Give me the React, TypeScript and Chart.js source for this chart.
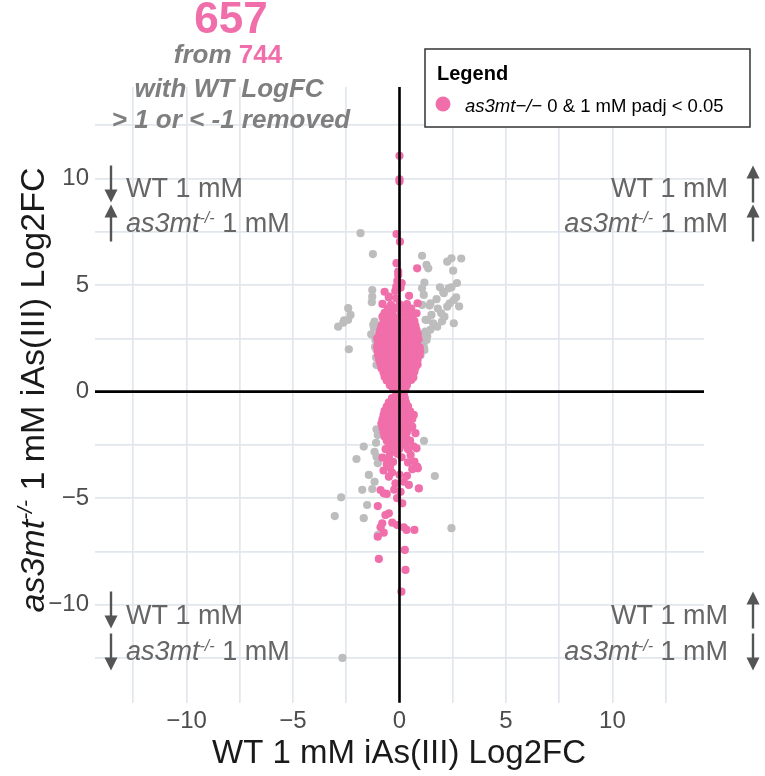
import React, { useEffect, useRef } from 'react';
import { Chart, registerables } from 'chart.js';

Chart.register(...registerables);

const FONT = "'Liberation Sans', Arial, Helvetica, sans-serif";
const PINK = '#F06EAA';
const GRAY = '#BDBDBD';

const xTickValues = [-12.5, -10, -7.5, -5, -2.5, 0, 2.5, 5, 7.5, 10, 12.5];
const yTickValues = [-12.5, -10, -7.5, -5, -2.5, 0, 2.5, 5, 7.5, 10, 12.5];
const xLimits = [-14.3, 14.3];
const yLimits = [-14.6, 14.3];

const titleCount = '657';
const titleTotal = '744';
const legendTitle = 'Legend';
const legendGene = 'as3mt\u2212/\u2212';
const legendRest = ' 0 & 1 mM padj < 0.05';

const grayPoints: [number, number][] = [
  [-1.83, 7.44], [-1.25, 6.46], [1.06, 6.38], [1.27, 5.95], [1.35, 5.79], [2.24, 6.1], [2.44, 6.26],
  [2.52, 5.68], [2.9, 6.25], [1.17, 5.12], [1.06, 4.85], [2.44, 4.9], [2.05, 4.69], [-1.28, 4.77],
  [-1.28, 4.46], [1.14, 4.54], [1.74, 4.34], [2.66, 4.43], [2.36, 4.15], [2.24, 3.99], [1.41, 4.04],
  [1.06, 4.07], [-2.41, 3.92], [-2.3, 3.6], [-2.64, 3.24], [-2.88, 3.05], [-2.41, 3.37], [-2.38, 1.99],
  [-1.17, 3.29], [-1.23, 3.13], [-1.33, 2.69], [-1.08, 1.96], [-1.08, 1.25], [1.22, 3.37], [1.58, 3.21],
  [1.96, 3.68], [2.11, 3.52], [2.55, 3.21], [1.77, 3.05], [1.14, 2.74], [1.27, 2.43], [1.02, 2.24],
  [1.17, 1.96], [0.99, 1.72], [-1.13, 2.43], [1.46, 4.15], [2.08, 4.62], [2.31, 4.85], [2.55, 4.3],
  [1.61, 3.13], [1.3, 3.37], [1.22, 2.82], [1.45, 2.9], [1.14, 2.11], [-2.6, 3.35], [-1.2, 3.0],
  [-1.15, 2.1], [-1.1, 1.6], [2.8, 4.0], [1.9, 4.9], [1.5, 3.6], [1.8, 3.9], [2.7, 5.1], [-1.3, 4.2],
  [1.3, 2.6], [2.0, 3.3],
  [-1.08, -1.77], [-1.02, -2.03], [-1.68, -2.58], [-1.17, -2.82], [-1.08, -3.05], [-2.02, -3.16],
  [-1.02, -3.36], [1.15, -2.31], [-1.44, -3.91], [-1.17, -4.23], [-1.28, -4.57], [-1.75, -4.61],
  [1.66, -3.96], [-2.74, -4.96], [-1.52, -5.32], [-3.04, -5.84], [-1.68, -5.94], [-1.02, -6.73],
  [2.44, -6.41], [-2.68, -12.5], [-1.1, -2.4],
];

const pinkPoints: [number, number][] = [
  [-0.3, 0.12], [-0.1, 0.08], [0.1, 0.1], [0.28, 0.14],
  [-0.45, 0.3], [-0.25, 0.27], [-0.05, 0.33], [0.15, 0.29], [0.35, 0.31],
  [-0.6, 0.52], [-0.4, 0.48], [-0.2, 0.5], [0.0, 0.53], [0.2, 0.47], [0.4, 0.5], [0.55, 0.55],
  [-0.7, 0.7], [-0.5, 0.73], [-0.3, 0.68], [-0.1, 0.71], [0.1, 0.69], [0.3, 0.72], [0.5, 0.7], [0.65, 0.67],
  [-0.75, 0.9], [-0.55, 0.88], [-0.35, 0.93], [-0.15, 0.9], [0.05, 0.87], [0.25, 0.91], [0.45, 0.89], [0.7, 0.93],
  [-0.85, 1.1], [-0.65, 1.13], [-0.45, 1.08], [-0.25, 1.1], [-0.05, 1.12], [0.15, 1.09], [0.35, 1.11], [0.55, 1.08], [0.75, 1.12],
  [-0.9, 1.32], [-0.7, 1.28], [-0.5, 1.3], [-0.3, 1.33], [-0.1, 1.29], [0.1, 1.31], [0.3, 1.28], [0.5, 1.32], [0.7, 1.3], [0.85, 1.27],
  [-0.95, 1.5], [-0.75, 1.53], [-0.55, 1.48], [-0.35, 1.5], [-0.15, 1.52], [0.05, 1.49], [0.25, 1.51], [0.45, 1.47], [0.65, 1.52], [0.85, 1.5],
  [-1.0, 1.7], [-0.8, 1.68], [-0.6, 1.72], [-0.4, 1.7], [-0.2, 1.67], [0.0, 1.71], [0.2, 1.69], [0.4, 1.73], [0.6, 1.7], [0.8, 1.68], [0.95, 1.72],
  [-1.02, 1.9], [-0.82, 1.93], [-0.62, 1.88], [-0.42, 1.91], [-0.22, 1.9], [-0.02, 1.87], [0.18, 1.92], [0.38, 1.89], [0.58, 1.91], [0.78, 1.88], [0.96, 1.9],
  [-1.05, 2.1], [-0.85, 2.08], [-0.65, 2.12], [-0.45, 2.1], [-0.25, 2.13], [-0.05, 2.09], [0.15, 2.11], [0.35, 2.08], [0.55, 2.12], [0.75, 2.1], [0.95, 2.07],
  [-1.0, 2.3], [-0.8, 2.33], [-0.6, 2.28], [-0.4, 2.31], [-0.2, 2.29], [0.0, 2.32], [0.2, 2.3], [0.4, 2.27], [0.6, 2.31], [0.8, 2.3],
  [-1.05, 2.5], [-0.85, 2.52], [-0.6, 2.48], [-0.4, 2.51], [-0.2, 2.5], [0.05, 2.53], [0.3, 2.49], [0.5, 2.5], [0.7, 2.52], [0.9, 2.47],
  [-0.95, 2.72], [-0.7, 2.68], [-0.45, 2.7], [-0.25, 2.73], [0.0, 2.69], [0.2, 2.71], [0.45, 2.68], [0.65, 2.72], [0.85, 2.7],
  [-0.9, 2.9], [-0.65, 2.93], [-0.4, 2.88], [-0.15, 2.91], [0.1, 2.9], [0.3, 2.87], [0.55, 2.92], [0.8, 2.9],
  [-0.85, 3.1], [-0.6, 3.12], [-0.3, 3.08], [-0.05, 3.11], [0.25, 3.1], [0.5, 3.13], [0.75, 3.09],
  [-0.75, 3.3], [-0.5, 3.28], [-0.2, 3.32], [0.1, 3.3], [0.35, 3.27], [0.7, 3.31],
  [-0.8, 3.52], [-0.45, 3.5], [-0.1, 3.48], [0.3, 3.51], [0.6, 3.5],
  [-0.7, 3.7], [-0.35, 3.72], [0.05, 3.69], [0.45, 3.7], [0.8, 3.68],
  [-0.55, 3.9], [-0.2, 3.92], [0.2, 3.88], [0.55, 3.9],
  [-0.8, 4.12], [-0.4, 4.08], [0.0, 4.1], [0.35, 4.11], [0.85, 4.15],
  [-0.5, 4.42], [-0.15, 4.38], [0.45, 4.5], [-0.7, 4.69], [-0.2, 4.72], [-0.5, 4.46],
  [-0.15, 4.93], [0.05, 4.88], [-0.1, 5.2], [0.1, 5.1],
  [-0.06, 5.63], [-0.06, 5.48], [0.83, 5.79], [-0.14, 6.03], [0.02, 7.04], [-0.14, 7.4],
  [0.0, 9.86], [0.0, 9.97], [0.0, 11.07],
  [-0.15, -0.1], [0.05, -0.08], [0.2, -0.12],
  [-0.35, -0.3], [-0.15, -0.28], [0.05, -0.32], [0.25, -0.3],
  [-0.5, -0.5], [-0.3, -0.52], [-0.1, -0.48], [0.1, -0.51], [0.3, -0.5],
  [-0.6, -0.7], [-0.4, -0.72], [-0.2, -0.68], [0.0, -0.71], [0.2, -0.7], [0.4, -0.69],
  [-0.7, -0.9], [-0.5, -0.92], [-0.3, -0.88], [-0.1, -0.91], [0.1, -0.9], [0.3, -0.89], [0.5, -0.92],
  [-0.75, -1.1], [-0.55, -1.12], [-0.35, -1.08], [-0.15, -1.11], [0.05, -1.1], [0.25, -1.09], [0.45, -1.12], [0.67, -1.09],
  [-0.8, -1.3], [-0.6, -1.28], [-0.4, -1.32], [-0.2, -1.3], [0.0, -1.29], [0.2, -1.31], [0.4, -1.3], [0.6, -1.28],
  [-0.85, -1.5], [-0.6, -1.52], [-0.4, -1.48], [-0.2, -1.51], [0.0, -1.5], [0.2, -1.49], [0.4, -1.52], [0.6, -1.64],
  [-0.8, -1.7], [-0.55, -1.72], [-0.35, -1.68], [-0.15, -1.71], [0.05, -1.7], [0.25, -1.69], [0.45, -1.72],
  [-0.75, -1.9], [-0.5, -1.92], [-0.3, -1.88], [-0.1, -1.91], [0.1, -1.9], [0.35, -1.89], [0.75, -1.95],
  [-0.7, -2.1], [-0.45, -2.12], [-0.2, -2.08], [0.05, -2.11], [0.3, -2.1],
  [-0.6, -2.3], [-0.35, -2.32], [-0.1, -2.28], [0.2, -2.31], [0.5, -2.3],
  [-0.5, -2.5], [-0.2, -2.52], [0.1, -2.48], [0.28, -2.5],
  [-0.65, -2.7], [-0.3, -2.72], [0.0, -2.68], [0.4, -2.7], [0.67, -2.58], [0.8, -2.66],
  [-0.45, -2.9], [-0.1, -2.92], [0.52, -2.97],
  [-0.8, -3.1], [-0.5, -3.12], [0.1, -3.08],
  [-0.3, -3.3], [0.4, -3.32], [0.7, -3.28],
  [0.83, -3.52], [0.86, -3.6], [0.6, -3.64], [-0.5, -3.99], [-0.35, -3.8], [-0.19, -4.3], [0.2, -4.23],
  [0.44, -4.38], [0.91, -4.54], [-0.89, -4.62], [-0.74, -4.77], [-0.6, -4.8], [-0.11, -5.0], [0.13, -5.24],
  [-1.02, -5.37], [-0.5, -5.71], [-0.66, -5.79], [-0.34, -6.15], [-0.11, -6.26], [-0.81, -6.18],
  [-0.89, -6.37], [0.2, -6.37], [0.33, -6.49], [0.7, -6.49], [-0.74, -6.62], [-1.02, -6.81],
  [0.25, -7.43], [-0.97, -7.85], [0.28, -8.37], [0.09, -9.39],
  [-0.6, -3.4], [-0.75, -3.7], [-0.45, -3.55], [0.0, -3.9], [0.35, -3.95], [-0.25, -4.6], [0.05, -4.7],
];

type Run = { text: string; font: string; color: string; dy?: number };

function runsWidth(ctx: CanvasRenderingContext2D, runs: Run[]) {
  let w = 0;
  for (const r of runs) { ctx.font = r.font; w += ctx.measureText(r.text).width; }
  return w;
}

function drawRuns(ctx: CanvasRenderingContext2D, runs: Run[], x: number, y: number, align: 'left' | 'center' | 'right') {
  const w = runsWidth(ctx, runs);
  let cx = align === 'left' ? x : align === 'center' ? x - w / 2 : x - w;
  ctx.textAlign = 'left';
  ctx.textBaseline = 'alphabetic';
  for (const r of runs) {
    ctx.font = r.font;
    ctx.fillStyle = r.color;
    ctx.fillText(r.text, cx, y + (r.dy || 0));
    cx += ctx.measureText(r.text).width;
  }
}

function drawArrow(ctx: CanvasRenderingContext2D, x: number, yc: number, up: boolean) {
  const len = 37, head = 13, half = 6.5;
  const dir = up ? -1 : 1;
  const tip = yc + dir * len / 2;
  const tail = yc - dir * len / 2;
  const base = tip - dir * head;
  ctx.save();
  ctx.strokeStyle = '#555555';
  ctx.fillStyle = '#555555';
  ctx.lineWidth = 2.4;
  ctx.lineCap = 'butt';
  ctx.beginPath();
  ctx.moveTo(x, tail);
  ctx.lineTo(x, base + dir * 6);
  ctx.stroke();
  ctx.beginPath();
  ctx.moveTo(x, tip);
  ctx.lineTo(x - half, base);
  ctx.lineTo(x + half, base);
  ctx.closePath();
  ctx.fill();
  ctx.restore();
}

const QFONT = `27px ${FONT}`;
const QFONT_I = `italic 27px ${FONT}`;
const QFONT_S = `italic 16px ${FONT}`;
const QCOL = '#666666';

const wtRun: Run[] = [{ text: 'WT 1 mM', font: QFONT, color: QCOL }];
const mutRun: Run[] = [
  { text: 'as3mt', font: QFONT_I, color: QCOL },
  { text: '-/-', font: QFONT_S, color: QCOL, dy: -9 },
  { text: ' 1 mM', font: QFONT, color: QCOL },
];

const overlay = {
  id: 'overlay',
  afterDatasetsDraw(chart: any) {
    const { ctx, chartArea: a, scales } = chart;
    const x0 = scales.x.getPixelForValue(0);
    const y0 = scales.y.getPixelForValue(0);
    ctx.save();
    ctx.strokeStyle = '#000';
    ctx.lineWidth = 2.6;
    ctx.beginPath();
    ctx.moveTo(x0, a.top);
    ctx.lineTo(x0, a.bottom);
    ctx.moveTo(a.left, y0);
    ctx.lineTo(a.right, y0);
    ctx.stroke();
    ctx.restore();
  },
  afterDraw(chart: any) {
    const ctx: CanvasRenderingContext2D = chart.ctx;
    ctx.save();

    // title block
    const gcol = '#7f7f7f';
    drawRuns(ctx, [{ text: titleCount, font: `bold 44px ${FONT}`, color: PINK }], 231, 33, 'center');
    drawRuns(ctx, [
      { text: 'from ', font: `italic bold 26px ${FONT}`, color: gcol },
      { text: titleTotal, font: `bold 26px ${FONT}`, color: PINK },
    ], 228, 63, 'center');
    drawRuns(ctx, [{ text: 'with WT LogFC', font: `italic bold 26px ${FONT}`, color: gcol }], 229, 97, 'center');
    drawRuns(ctx, [{ text: '> 1 or < -1 removed', font: `italic bold 26px ${FONT}`, color: gcol }], 231, 128, 'center');

    // legend box
    ctx.fillStyle = '#ffffff';
    ctx.fillRect(425, 49, 325, 78);
    ctx.strokeStyle = '#333333';
    ctx.lineWidth = 1.5;
    ctx.strokeRect(425, 49, 325, 78);
    drawRuns(ctx, [{ text: legendTitle, font: `bold 20px ${FONT}`, color: '#000' }], 437, 80, 'left');
    ctx.fillStyle = PINK;
    ctx.beginPath();
    ctx.arc(443, 104, 7.5, 0, Math.PI * 2);
    ctx.fill();
    drawRuns(ctx, [
      { text: legendGene, font: `italic 18.5px ${FONT}`, color: '#000' },
      { text: legendRest, font: `18.5px ${FONT}`, color: '#000' },
    ], 465, 111.5, 'left');

    // quadrant labels
    drawRuns(ctx, wtRun, 126, 197, 'left');
    drawRuns(ctx, mutRun, 126, 232, 'left');
    drawArrow(ctx, 111, 184, false);
    drawArrow(ctx, 111, 223, true);

    drawRuns(ctx, wtRun, 728, 197, 'right');
    drawRuns(ctx, mutRun, 728, 232, 'right');
    drawArrow(ctx, 753, 184, true);
    drawArrow(ctx, 753, 223, true);

    drawRuns(ctx, wtRun, 126, 624, 'left');
    drawRuns(ctx, mutRun, 126, 660, 'left');
    drawArrow(ctx, 111, 610, false);
    drawArrow(ctx, 111, 652, false);

    drawRuns(ctx, wtRun, 728, 624, 'right');
    drawRuns(ctx, mutRun, 728, 660, 'right');
    drawArrow(ctx, 753, 610, true);
    drawArrow(ctx, 753, 652, false);

    // axis titles
    drawRuns(ctx, [{ text: 'WT 1 mM iAs(III) Log2FC', font: `33px ${FONT}`, color: '#1a1a1a' }], 399, 763, 'center');
    ctx.save();
    ctx.translate(44, 390);
    ctx.rotate(-Math.PI / 2);
    drawRuns(ctx, [
      { text: 'as3mt', font: `italic 34px ${FONT}`, color: '#1a1a1a' },
      { text: '-/-', font: `italic 21px ${FONT}`, color: '#1a1a1a', dy: -12 },
      { text: ' 1 mM iAs(III) Log2FC', font: `34px ${FONT}`, color: '#1a1a1a' },
    ], 0, 0, 'center');
    ctx.restore();

    ctx.restore();
  },
};

const fmt = (v: number) => {
  if (Math.abs(v % 5) > 1e-9) return '';
  return v < 0 ? '\u2212' + Math.abs(v) : String(v);
};

export default function App() {
  const ref = useRef<HTMLCanvasElement | null>(null);
  useEffect(() => {
    document.body.style.margin = '0';
    const canvas = ref.current;
    if (!canvas) return;
    const gridColor = (c: any) => (c.tick && c.tick.value === 0 ? 'rgba(0,0,0,0)' : '#e1e7ec');
    const chart = new Chart(canvas, {
      type: 'scatter',
      data: {
        datasets: [
          {
            label: 'padj',
            data: pinkPoints.map(([x, y]) => ({ x, y })),
            backgroundColor: PINK,
            borderWidth: 0,
            pointRadius: 4.1,
          },
          {
            label: 'removed',
            data: grayPoints.map(([x, y]) => ({ x, y })),
            backgroundColor: GRAY,
            borderWidth: 0,
            pointRadius: 4.1,
          },
        ],
      },
      options: {
        responsive: false,
        animation: false,
        layout: { padding: { top: 87, right: 61, left: 0, bottom: 0 } },
        plugins: { legend: { display: false }, tooltip: { enabled: false } },
        scales: {
          x: {
            type: 'linear',
            min: xLimits[0],
            max: xLimits[1],
            afterBuildTicks: (s: any) => { s.ticks = xTickValues.map((value) => ({ value })); },
            afterFit: (s: any) => { s.height = 73.3; },
            border: { display: false },
            grid: { color: gridColor, lineWidth: 1.7, drawTicks: false },
            ticks: { callback: (v: any) => fmt(Number(v)), font: { family: FONT, size: 24 }, color: '#4d4d4d', padding: 4, maxRotation: 0, autoSkip: false },
          },
          y: {
            type: 'linear',
            min: yLimits[0],
            max: yLimits[1],
            afterBuildTicks: (s: any) => { s.ticks = yTickValues.map((value) => ({ value })); },
            afterFit: (s: any) => { s.width = 95; },
            border: { display: false },
            grid: { color: gridColor, lineWidth: 1.7, drawTicks: false },
            ticks: { callback: (v: any) => fmt(Number(v)), font: { family: FONT, size: 24 }, color: '#4d4d4d', padding: 6, autoSkip: false },
          },
        },
      },
      plugins: [overlay],
    });
    return () => chart.destroy();
  }, []);
  return (
    <div style={{ width: 765, height: 776 }}>
      <canvas ref={ref} width={765} height={776} style={{ display: 'block', width: 765, height: 776 }} />
    </div>
  );
}
